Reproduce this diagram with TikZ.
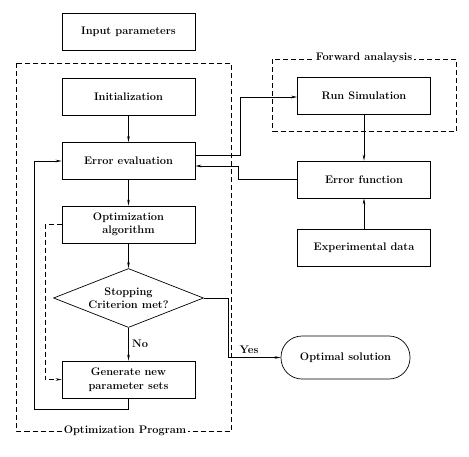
\documentclass[tikz,border=0pt]{standalone}
\usetikzlibrary{shapes.geometric,arrows.meta}
\begin{document}
\begin{tikzpicture}
  [x=1pt,y=-1pt,line width=0.7pt,>={Stealth[length=6pt,width=2.6pt]},
   every node/.style={font=\fontsize{11}{13.5}\selectfont\bfseries,align=center},
   box/.style={draw,rectangle,minimum width=133pt,minimum height=37pt,inner sep=1pt},
   frame/.style={dash pattern=on 5pt off 3pt},
   tag/.style={fill=white,inner sep=2pt}]
\useasboundingbox (0,0) rectangle (469,456);

\node (input)[box] at (128.5,32) {Input parameters};
  \node (init)[box] at (128.5,97)  {Initialization};
  \node (eval)[box] at (128.5,161) {Error evaluation};
  \node (optalg)[box] at (128.5,224.5) {Optimization\\algorithm};
  \node (stop)[draw,diamond,aspect=2.6,minimum width=150pt,minimum height=59pt,inner sep=0pt] at (128.5,298) {Stopping\\Criterion met?};
  \node (gen)[box] at (128.5,379.5) {Generate new\\parameter sets};
  \node (sim)[box] at (364,96) {Run Simulation};
  \node (errf)[box] at (364,179.5) {Error function};
  \node (exp)[box] at (364,247.5) {Experimental data};
  \node (opt)[draw,rectangle,rounded corners=21pt,minimum width=129pt,minimum height=43pt] at (345.5,357.5) {Optimal solution};

% dashed frames
\draw[frame] (16.5,63) rectangle (231,431);
  \node (optlabel)[tag] at (125,431) {Optimization Program};
  \draw[frame] (272.5,59) rectangle (456,131);
  \node (fwdlabel)[tag] at (364,58) {Forward analaysis};

 \foreach \from/\to in {init/eval,eval/optalg,optalg/stop,sim/errf,exp/errf}
    \draw[->] (\from) -- (\to);
  \draw[->] (stop) -- node[right,pos=0.5]{No} (gen);

  \draw[->] (gen.south) -- ++(0,11) -| (34,161) -- (eval.west);
  \draw[->,frame] (optalg.west) -- (45,224.5) |- (gen.west);
  \draw[->] ([yshift=6pt]eval.east) -| (240.5,97) -- (sim.west |- 0,97);
  \draw[->] (errf.west) -| (238,166) -- ([yshift=-5pt]eval.east);
  \draw[->] (stop.east) -| (228,357.5) -- node[above,pos=0.4]{Yes} (opt.west);
\end{tikzpicture}
\end{document}
